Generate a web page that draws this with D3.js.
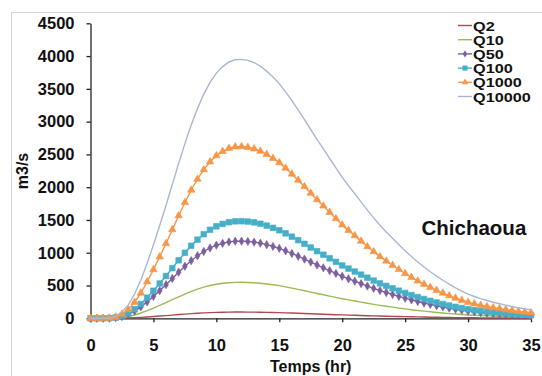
<!DOCTYPE html>
<html><head><meta charset="utf-8">
<script src="https://cdn.jsdelivr.net/npm/d3@7/dist/d3.min.js"></script>
<style>
body{margin:0;background:#fff;}
svg{display:block;font-family:"Liberation Sans",Arial,sans-serif;}
</style></head>
<body><svg id="c" width="542" height="376"></svg>
<script>
const hours = [0,0.5,1,1.5,2,2.5,3,3.5,4,4.5,5,5.5,6,6.5,7,7.5,8,8.5,9,9.5,10,10.5,11,11.5,12,12.5,13,13.5,14,14.5,15,15.5,16,16.5,17,17.5,18,18.5,19,19.5,20,20.5,21,21.5,22,22.5,23,23.5,24,24.5,25,25.5,26,26.5,27,27.5,28,28.5,29,29.5,30,30.5,31,31.5,32,32.5,33,33.5,34,34.5,35];
const q2 = [0,0,0,0,1,2,5,9,14,20,27,34,41,49,57,64,71,77,82,86,90,92,94,95,95,94,94,92,90,88,86,83,80,76,73,69,66,62,59,55,52,49,46,43,40,37,34,32,29,27,25,23,21,19,17,15,14,12,11,10,9,8,7,7,6,5,5,4,4,3,3];
const q10 = [0,0,0,1,4,13,28,51,81,117,156,197,239,284,328,370,410,445,475,500,520,534,543,548,549,547,542,534,524,512,498,480,461,442,421,400,379,359,339,319,299,281,264,247,229,213,197,183,170,156,143,131,120,109,99,89,81,72,65,58,51,46,42,38,34,31,28,25,22,20,18];
const q50 = [0,0,0,1,9,28,60,110,173,250,334,422,513,608,703,794,879,954,1019,1073,1115,1144,1165,1176,1177,1173,1162,1146,1123,1097,1067,1030,989,947,903,858,814,770,727,684,641,603,566,529,492,457,423,393,364,335,307,281,256,233,212,192,173,155,139,124,110,99,89,81,73,66,60,54,48,43,38];
const q100 = [0,0,0,2,11,36,75,139,218,315,420,531,645,765,885,999,1106,1200,1283,1350,1403,1440,1466,1479,1481,1476,1463,1442,1414,1380,1343,1296,1245,1192,1136,1080,1024,969,915,861,806,758,713,666,619,575,533,494,458,421,386,354,323,294,266,241,218,195,174,156,139,125,113,102,92,83,75,68,60,54,48];
const q1000 = [0,0,0,3,20,63,133,245,385,557,743,938,1140,1353,1565,1767,1956,2122,2267,2387,2480,2546,2592,2616,2619,2609,2586,2549,2500,2440,2374,2291,2201,2107,2009,1909,1810,1714,1618,1522,1425,1341,1260,1177,1094,1016,941,874,809,745,683,625,570,519,471,426,385,345,308,275,245,221,199,180,162,147,133,119,106,95,85];
const q10000 = [0,0,0,5,30,95,200,370,580,840,1120,1415,1720,2040,2360,2665,2950,3200,3420,3600,3740,3840,3910,3945,3950,3935,3900,3845,3770,3680,3580,3455,3320,3178,3030,2880,2730,2585,2440,2295,2150,2022,1900,1775,1650,1532,1420,1318,1220,1123,1030,943,860,783,710,643,580,520,465,415,370,333,300,271,245,222,200,180,160,143,128];
const seriesNames = ["Q2","Q10","Q50","Q100","Q1000","Q10000"];
const xTicks = [0,5,10,15,20,25,30,35];
const yTicks = [0,500,1000,1500,2000,2500,3000,3500,4000,4500];

const colors = {Q2:"#b04850",Q10:"#9bbb59",Q50:"#7d5fa0",Q100:"#46afc8",Q1000:"#f79646",Q10000:"#a9b7d4"};
const markers = {Q2:null,Q10:null,Q50:d3.symbolDiamond,Q100:d3.symbolSquare,Q1000:d3.symbolTriangle,Q10000:null};
const msize = {Q50:20,Q100:32,Q1000:24};
const dataMap = {Q2:q2,Q10:q10,Q50:q50,Q100:q100,Q1000:q1000,Q10000:q10000};

const svg = d3.select("#c");
svg.append("rect").attr("x",11.5).attr("y",12.5).attr("width",600).attr("height",400)
  .attr("fill","none").attr("stroke","#d4d4d4");

const x = d3.scaleLinear().domain([0,35]).range([90.5,531]);
const y = d3.scaleLinear().domain([0,4500]).range([318.3,23.3]);

const gy = svg.append("g").attr("transform","translate(90.5,0)")
  .call(d3.axisLeft(y).tickValues(yTicks).tickFormat(d3.format("d")).tickSize(4).tickPadding(12).tickSizeOuter(0));
const gx = svg.append("g").attr("transform","translate(0,318.3)")
  .call(d3.axisBottom(x).tickValues(xTicks).tickFormat(d3.format("d")).tickSize(4).tickPadding(17).tickSizeOuter(0));
[gy,gx].forEach(g=>{
  g.select(".domain").attr("stroke","#222").attr("stroke-width",1.3);
  g.selectAll(".tick line").attr("stroke","#222").attr("stroke-width",1.3);
  g.selectAll(".tick text").attr("fill","#111").style("font-size","16.5px").style("font-weight","bold")
   .style("font-family","'Liberation Sans',Arial,sans-serif");
});

svg.append("text").attr("transform","translate(28,171) rotate(-90)").attr("text-anchor","middle")
  .style("font-size","16px").style("font-weight","bold").attr("fill","#111").text("m3/s");
svg.append("text").attr("x",310.7).attr("y",372).attr("text-anchor","middle")
  .style("font-size","16px").style("font-weight","bold").attr("fill","#111").text("Temps (hr)");
svg.append("text").attr("x",421.5).attr("y",235).style("font-size","20.5px").style("font-weight","bold")
  .attr("fill","#111").text("Chichaoua");

const line = d3.line().x((d,i)=>x(hours[i])).y(d=>y(d));
seriesNames.forEach(name=>{
  const vals = dataMap[name];
  const g = svg.append("g");
  g.append("path").datum(vals).attr("d",line).attr("fill","none")
    .attr("stroke",colors[name]).attr("stroke-width",1.4);
  if(markers[name]){
    const sym = d3.symbol().type(markers[name]).size(msize[name]);
    g.selectAll("path.m").data(vals).join("path").attr("class","m")
      .attr("d",sym).attr("transform",(d,i)=>`translate(${x(hours[i])},${y(d)})`)
      .attr("fill",colors[name]).attr("stroke",colors[name]).attr("stroke-width",0.6);
  }
});

const lg = svg.append("g");
seriesNames.forEach((name,i)=>{
  const by = 30.5 + i*14.2;
  const ly = by - 5;
  lg.append("line").attr("x1",458).attr("x2",472).attr("y1",ly).attr("y2",ly)
    .attr("stroke",colors[name]).attr("stroke-width",1.4);
  if(markers[name]){
    lg.append("path").attr("d",d3.symbol().type(markers[name]).size(msize[name]*0.8)())
      .attr("transform",`translate(465,${ly})`).attr("fill",colors[name]);
  }
  lg.append("text").attr("transform",`translate(473,${by}) scale(1.3,1)`)
    .style("font-size","12.5px").style("font-weight","bold")
    .attr("fill","#111").text(name);
});
</script></body></html>
